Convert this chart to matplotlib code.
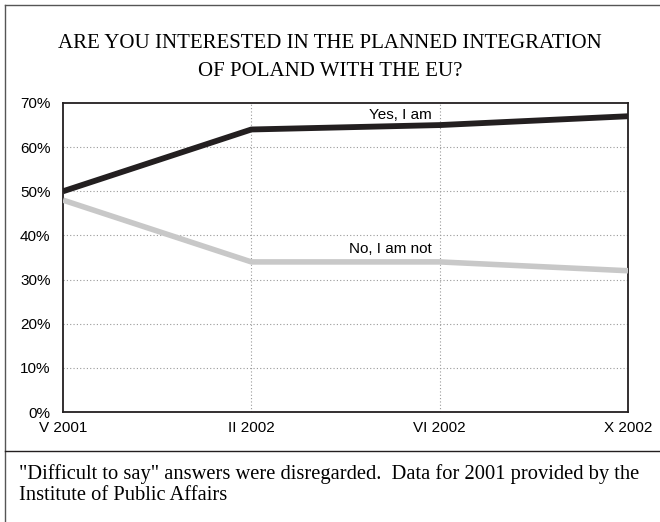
import matplotlib
matplotlib.use("Agg")
import matplotlib.pyplot as plt
from matplotlib.lines import Line2D

# data
periods = ["V 2001", "II 2002", "VI 2002", "X 2002"]
yes_values = [50, 64, 65, 67]
no_values = [48, 34, 34, 32]
y_ticks = [0, 10, 20, 30, 40, 50, 60, 70]

title_lines = ["ARE YOU INTERESTED IN THE PLANNED INTEGRATION",
               "OF POLAND WITH THE EU?"]
footnote_lines = ["\"Difficult to say\" answers were disregarded.  Data for 2001 provided by the",
                  "Institute of Public Affairs"]

serif = "Liberation Serif"
sans = "Liberation Sans"
W, H = 660, 522

fig = plt.figure(figsize=(6.6, 5.22), dpi=100)
ax = fig.add_axes((63 / W, 1 - 412 / H, (628 - 63) / W, (412 - 103) / H))

x = list(range(len(periods)))
ax.plot(x, no_values, color="#c8c8c8", lw=4.0, solid_capstyle="butt", zorder=3)
ax.plot(x, yes_values, color="#231f20", lw=4.2, solid_capstyle="butt", zorder=4)

ax.set_xlim(0, len(periods) - 1)
ax.set_ylim(0, 70)
ax.set_xticks(x)
ax.set_xticklabels(periods, fontfamily=sans, fontsize=11)
ax.set_yticks(y_ticks)
ax.set_yticklabels([f"{v}%" for v in y_ticks], fontfamily=sans, fontsize=11)
ax.tick_params(length=0)
ax.tick_params(axis="x", pad=6.5)
ax.tick_params(axis="y", pad=9)

for v in y_ticks[1:-1]:
    ax.axhline(v, color="#999999", lw=0.8, ls=(0, (1, 2)), zorder=1)
for xi in x[1:-1]:
    ax.axvline(xi, color="#999999", lw=0.8, ls=(0, (1, 2)), zorder=1)

for s in ax.spines.values():
    s.set_linewidth(1.3)
    s.set_color("#231f20")

ax.text(1.96, 67.3, "Yes, I am", ha="right", va="center", fontfamily=sans, fontsize=11)
ax.text(1.96, 37.0, "No, I am not", ha="right", va="center", fontfamily=sans, fontsize=11)

for yy, line in zip([44, 71], title_lines):
    fig.text(0.5, 1 - yy / H, line, ha="center", va="center", fontfamily=serif, fontsize=15)
for yy, line in zip([474, 496], footnote_lines):
    fig.text(19 / W, 1 - yy / H, line, ha="left", va="center", fontfamily=serif, fontsize=14.8)

# outer frame and divider
frame_col = "#555555"
fig.add_artist(Line2D([5 / W, 5 / W], [0, 1 - 5 / H], transform=fig.transFigure, color=frame_col, lw=1))
fig.add_artist(Line2D([5 / W, 1], [1 - 5 / H, 1 - 5 / H], transform=fig.transFigure, color=frame_col, lw=1))
fig.add_artist(Line2D([5 / W, 1], [1 - 451 / H, 1 - 451 / H], transform=fig.transFigure, color="#231f20", lw=1))

fig.savefig("out.png", dpi=100)
